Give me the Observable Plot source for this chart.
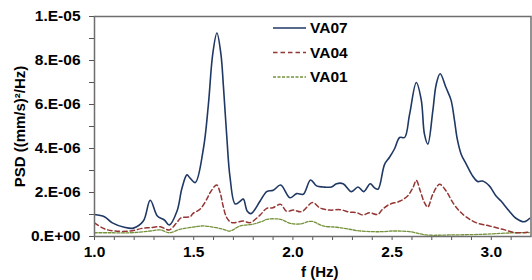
<!DOCTYPE html>
<html>
<head>
<meta charset="utf-8">
<script src="https://cdn.jsdelivr.net/npm/d3@7"></script>
<script src="https://cdn.jsdelivr.net/npm/@observablehq/plot@0.6"></script>
<style>
  html, body { margin: 0; padding: 0; background: #fff; }
  #chart { position: relative; width: 532px; height: 280px; }
  svg { font-family: "Liberation Sans", Arial, sans-serif; }
</style>
</head>
<body>
<div id="chart"></div>
<script>
// values in units of 1e-6 (mm/s)^2/Hz
const UNIT = 1e-6;
const seriesNames = ["VA07", "VA04", "VA01"];
const seriesColors = ["#1f3864", "#943634", "#76923c"];

const va07F = [1.000,1.050,1.090,1.150,1.196,1.246,1.281,1.317,1.352,1.377,1.416,1.441,1.466,1.482,1.508,1.549,1.574,1.596,1.617,1.637,1.650,1.667,1.683,1.709,1.734,1.750,1.770,1.789,1.834,1.868,1.901,1.938,1.985,2.019,2.052,2.089,2.119,2.152,2.194,2.220,2.253,2.295,2.328,2.357,2.390,2.410,2.429,2.462,2.487,2.513,2.538,2.563,2.588,2.622,2.647,2.663,2.680,2.705,2.722,2.742,2.772,2.797,2.814,2.829,2.848,2.873,2.906,2.931,2.956,2.990,3.024,3.049,3.090,3.124,3.166,3.194];
const va07V = [1.00,0.90,0.62,0.42,0.38,0.70,1.65,0.93,0.75,0.52,1.16,2.20,2.80,2.65,2.45,4.00,6.00,8.30,9.25,8.30,6.80,4.50,2.70,1.48,1.60,1.70,1.15,1.04,1.60,2.04,2.10,2.34,1.76,1.95,1.92,2.57,2.30,2.25,2.25,2.40,2.40,2.04,2.25,2.04,2.40,2.22,2.15,3.28,3.60,4.00,4.50,4.50,5.55,7.00,6.20,4.65,4.20,5.70,6.90,7.40,6.76,6.20,5.30,4.40,3.74,3.30,2.75,2.50,2.52,2.30,1.84,1.61,1.16,0.83,0.67,0.83];

const va04F = [1.000,1.050,1.101,1.181,1.246,1.281,1.332,1.377,1.412,1.437,1.482,1.497,1.533,1.566,1.583,1.616,1.633,1.648,1.667,1.692,1.749,1.784,1.834,1.868,1.899,1.938,1.968,2.002,2.044,2.099,2.136,2.186,2.236,2.286,2.322,2.353,2.387,2.427,2.452,2.487,2.538,2.578,2.605,2.622,2.642,2.663,2.680,2.705,2.739,2.772,2.806,2.839,2.873,2.923,2.990,3.057,3.124,3.191];
const va04V = [0.62,0.35,0.25,0.25,0.38,0.40,0.44,0.30,0.60,0.85,0.90,1.05,1.25,1.70,2.00,2.34,2.00,1.40,0.85,0.63,0.70,0.63,0.97,1.28,1.31,1.46,1.15,1.20,1.13,1.54,1.30,1.20,1.22,1.11,1.08,0.98,1.08,1.00,1.24,1.46,1.60,1.84,2.22,2.55,2.07,1.54,1.34,1.92,2.37,2.07,1.54,1.16,0.89,0.63,0.48,0.33,0.17,0.20];

const va01F = [1.000,1.080,1.181,1.281,1.332,1.377,1.432,1.497,1.548,1.598,1.648,1.683,1.734,1.799,1.849,1.868,1.938,1.985,2.035,2.094,2.152,2.221,2.286,2.320,2.402,2.452,2.503,2.588,2.673,2.789,2.955,3.090,3.191];
const va01V = [0.17,0.17,0.17,0.25,0.30,0.17,0.33,0.43,0.48,0.43,0.33,0.25,0.48,0.56,0.70,0.78,0.78,0.60,0.57,0.69,0.48,0.42,0.33,0.27,0.22,0.22,0.25,0.22,0.07,0.07,0.10,0.16,0.18];

const xMajor = [1.0, 1.5, 2.0, 2.5, 3.0];
const xMinor = [1.1,1.2,1.3,1.4,1.6,1.7,1.8,1.9,2.1,2.2,2.3,2.4,2.6,2.7,2.8,2.9,3.1];
const yMajor = [0, 2e-6, 4e-6, 6e-6, 8e-6, 1e-5];
const yMinor = [1e-6, 3e-6, 5e-6, 7e-6, 9e-6];

const toRows = (F, V, name) => F.map((f, i) => ({f, v: V[i] * UNIT, name}));
const data = [
  ...toRows(va07F, va07V, "VA07"),
  ...toRows(va04F, va04V, "VA04"),
  ...toRows(va01F, va01V, "VA01")
];

function sci(v) {
  if (v === 0) return "0.E+00";
  const [m, e] = v.toExponential(0).split("e");
  const n = +e;
  return m + ".E" + (n < 0 ? "-" : "+") + String(Math.abs(n)).padStart(2, "0");
}

const dashes = {VA07: null, VA04: "4.5,3", VA01: "3,1.5"};
const widths = {VA07: 1.6, VA04: 1.5, VA01: 1.3};

const chart = Plot.plot({
  width: 532,
  height: 280,
  marginLeft: 94,
  marginRight: 1.5,
  marginTop: 16,
  marginBottom: 44,
  style: {fontFamily: "'Liberation Sans', Arial, sans-serif", fontSize: "15px", fontWeight: "bold", color: "#000", background: "#fff"},
  x: {domain: [1, 3.2]},
  y: {domain: [0, 1e-5]},
  marks: [
    Plot.axisX(xMinor, {tickSize: 4, tickFormat: () => "", label: null, stroke: "#555"}),
    Plot.axisX(xMajor, {tickSize: 4, tickPadding: 5, tickFormat: d3.format(".1f"), fontSize: 15.5, label: "f (Hz)", labelAnchor: "center", labelArrow: "none", labelOffset: 40, stroke: "#555", fill: "#000", fontWeight: "bold"}),
    Plot.axisY(yMinor, {tickSize: 5, tickFormat: () => "", label: null, stroke: "#555"}),
    Plot.axisY(yMajor, {tickSize: 5, tickPadding: 9, tickFormat: sci, fontSize: 15.5, label: "PSD ((mm/s)\u00b2/Hz)", labelAnchor: "center", labelArrow: "none", labelOffset: 80, stroke: "#555", fill: "#000", fontWeight: "bold"}),
    ...seriesNames.map((name, i) => Plot.line(data.filter(d => d.name === name), {
      x: "f", y: "v", stroke: seriesColors[i], strokeWidth: widths[name],
      strokeDasharray: dashes[name], curve: "catmull-rom", clip: true
    })).reverse(),
    Plot.frame({stroke: "#6e6e6e", strokeWidth: 1.5})
  ]
});

document.getElementById("chart").appendChild(chart);

// axis label sizes / nudge x label right as in reference
d3.select(chart).selectAll("g[aria-label='x-axis label'] text, g[aria-label='y-axis label'] text")
  .attr("font-size", 15);
d3.select(chart).selectAll("g[aria-label='x-axis label']")
  .attr("transform", function() { return (this.getAttribute("transform") || "") + " translate(7,0)"; });

// legend inside plot area
const svg = d3.select(chart);
const lg = svg.append("g").attr("class", "legend").attr("text-anchor", "start");
seriesNames.forEach((name, i) => {
  const y = 28 + i * 24.5;
  lg.append("line").attr("x1", 273).attr("x2", 306).attr("y1", y).attr("y2", y)
    .attr("stroke", seriesColors[i]).attr("stroke-width", widths[name])
    .attr("stroke-dasharray", dashes[name]);
  lg.append("text").attr("x", 310).attr("y", y).attr("dy", "0.35em")
    .attr("font-size", 15.5).attr("font-weight", "bold").attr("fill", "#000").text(name);
});
</script>
</body>
</html>
